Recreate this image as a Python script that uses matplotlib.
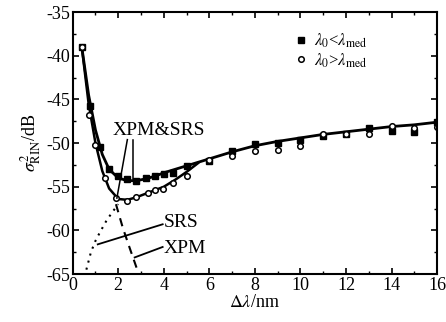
import matplotlib
matplotlib.use("Agg")
import matplotlib.pyplot as plt
from matplotlib.ticker import MultipleLocator

plt.rcParams['font.family'] = ['Liberation Serif', 'DejaVu Serif']
plt.rcParams['mathtext.fontset'] = 'stix'

# model curves
upper_x = [0.4, 0.7, 1.0, 1.3, 1.6, 2.0, 2.4, 2.8, 3.2, 3.6, 4.0, 5, 6, 7, 8, 9, 10, 11, 12, 13, 14, 15, 16]
upper_y = [-39, -44.5, -48.5, -51.3, -53.0, -54.0, -54.3, -54.3, -54.1, -53.8, -53.4, -52.6, -51.8,
           -51.0, -50.3, -49.8, -49.4, -49.0, -48.7, -48.4, -48.1, -47.9, -47.6]
lower_x = [0.4, 0.7, 1.0, 1.3, 1.6, 2.0, 2.4, 2.8, 3.2, 3.6, 4.0, 4.5, 5.0, 5.5]
lower_y = [-39, -45.5, -50.0, -53.2, -55.2, -56.4, -56.5, -56.2, -55.8, -55.4, -55.0, -54.2, -53.3, -52.3]
srs_x = [0.6, 0.8, 1.0, 1.2, 1.5, 1.8, 2.0]
srs_y = [-64.5, -62.5, -61.2, -60.2, -58.8, -57.7, -57.0]
xpm_x = [1.9, 2.2, 2.5, 2.9]
xpm_y = [-57.0, -59.7, -62.0, -65.0]

# measured points
sq_x = [0.4, 0.75, 1.2, 1.6, 2.0, 2.4, 2.8, 3.2, 3.6, 4.0, 4.4, 5, 6, 7, 8, 9, 10, 11, 12, 13, 14, 15, 16]
sq_y = [-39.0, -45.8, -50.5, -53.0, -53.8, -54.1, -54.3, -54.0, -53.8, -53.5, -53.4, -52.6, -52.0,
        -50.9, -50.1, -50.0, -49.6, -49.2, -48.9, -48.3, -48.6, -48.7, -47.6]
ci_x = [0.4, 0.7, 1.0, 1.4, 1.9, 2.4, 2.8, 3.3, 3.6, 3.95, 4.4, 5, 6, 7, 8, 9, 10, 11, 12, 13, 14, 15, 16]
ci_y = [-39.0, -46.8, -50.2, -54.0, -56.3, -56.6, -56.2, -55.7, -55.4, -55.2, -54.6, -53.8, -51.9,
        -51.5, -50.9, -50.8, -50.3, -49.0, -49.0, -48.9, -48.0, -48.3, -48.2]

fig = plt.figure(figsize=(4.46, 3.22), dpi=100)
ax = fig.add_axes([0.163, 0.149, 0.817, 0.813])

ax.plot(upper_x, upper_y, color='black', lw=2.0)
ax.plot(lower_x, lower_y, color='black', lw=1.8)
ax.plot(srs_x, srs_y, color='black', lw=1.5, ls=(0, (1, 2.5)))
ax.plot(xpm_x, xpm_y, color='black', lw=1.5, ls=(0, (4, 3)))
ax.plot(sq_x, sq_y, 's', color='black', ms=4, label=r'$\lambda_0$<$\lambda_{\rm med}$')
ax.plot(ci_x, ci_y, 'o', mfc='white', mec='black', mew=1.1, ms=4, label=r'$\lambda_0$>$\lambda_{\rm med}$')

# annotations
ax.text(3.8, -48.6, 'XPM&SRS', fontsize=14, ha='center', va='center')
ax.plot([2.4, 1.94], [-49.6, -56.3], color='black', lw=1.1)
ax.plot([2.63, 2.63], [-49.6, -54.1], color='black', lw=1.1)
ax.text(4.0, -59.1, 'SRS', fontsize=14, ha='left', va='center')
ax.plot([1.1, 3.95], [-61.6, -59.3], color='black', lw=1.3)
ax.text(4.0, -62.1, 'XPM', fontsize=14, ha='left', va='center')
ax.plot([2.72, 3.95], [-63.1, -61.9], color='black', lw=1.3)

ax.set_xlim(0, 16)
ax.set_ylim(-65, -35)
ax.xaxis.set_major_locator(MultipleLocator(2))
ax.xaxis.set_minor_locator(MultipleLocator(1))
ax.yaxis.set_major_locator(MultipleLocator(5))
ax.yaxis.set_minor_locator(MultipleLocator(2.5))
ax.tick_params(which='both', direction='in', top=True, right=True, labelsize=13, pad=2)
ax.tick_params(which='major', length=4, width=1.2)
ax.tick_params(which='minor', length=2.5, width=1.0)
ax.set_yticks(range(-65, -34, 5))
ax.set_yticklabels(['-%d' % abs(v) for v in range(-65, -34, 5)])
for s in ax.spines.values():
    s.set_linewidth(1.5)

ax.set_xlabel(r'$\Delta\lambda$/nm', fontsize=13, labelpad=0)
ax.set_ylabel(r'$\sigma^2_{\rm RIN}$/dB', fontsize=13, labelpad=2)

ax.legend(loc='upper left', bbox_to_anchor=(0.59, 0.95), frameon=False, fontsize=12,
          handlelength=0.8, handletextpad=0.4, labelspacing=0.05, borderaxespad=0.0)

fig.savefig('out.png', dpi=100)
